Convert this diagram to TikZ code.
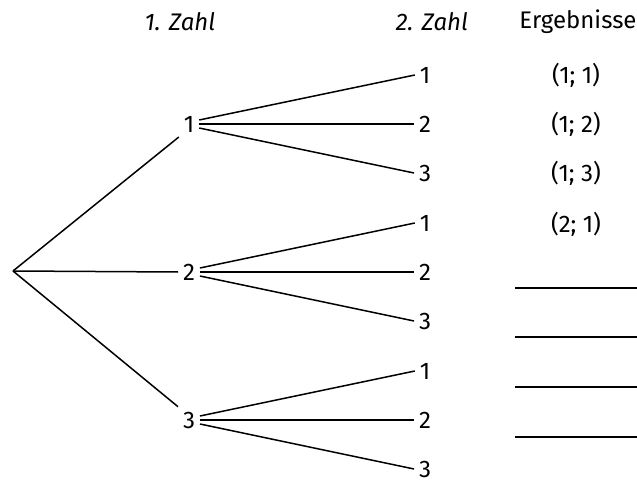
\documentclass[tikz,border=0pt]{standalone}
\usepackage{fontspec}
\setmainfont{Fira Sans}

\begin{document}
\begin{tikzpicture}[x=1pt,y=-1pt,
  num/.style={font=\fontsize{24}{28}\selectfont,inner sep=2pt,outer sep=3pt},
  head/.style={font=\fontsize{24}{28}\selectfont},
  branch/.style={line width=1.5pt}]
\useasboundingbox (0,0) rectangle (637,481);
\node [head] (zahlA) at (180,22) {\textit{1. Zahl}};
\node [head] (zahlB) at (432,22) {\textit{2. Zahl}};
\node [head] (erg) at (578,22) {Ergebnisse};
\coordinate (root) at (13,271);
  \foreach \i/\ypos/\anc in {1/124/south west,2/272/west,3/420/north west}
  {  \node [num] (a\i) at (189,\ypos) {\i};
     \draw [branch] (root) -- (a\i.\anc);
     \foreach \j/\shift in {1/4,2/0,3/-4}
     {  \node [num] (b\i\j) at (425,\ypos+\j*49-98) {\j};
        \draw [branch] ([yshift=\shift pt]a\i.east) -- (b\i\j.west);}}
  \foreach \res/\ypos in {{(1; 1)}/75,{(1; 2)}/124,{(1; 3)}/173,{(2; 1)}/224}
  {  \node [num] () at (576,\ypos) {\res};}
  \foreach \ypos in {288,337,387,437}
  {  \draw [line width=1.1pt] (515,\ypos) -- (637,\ypos);}
\end{tikzpicture}
\end{document}
